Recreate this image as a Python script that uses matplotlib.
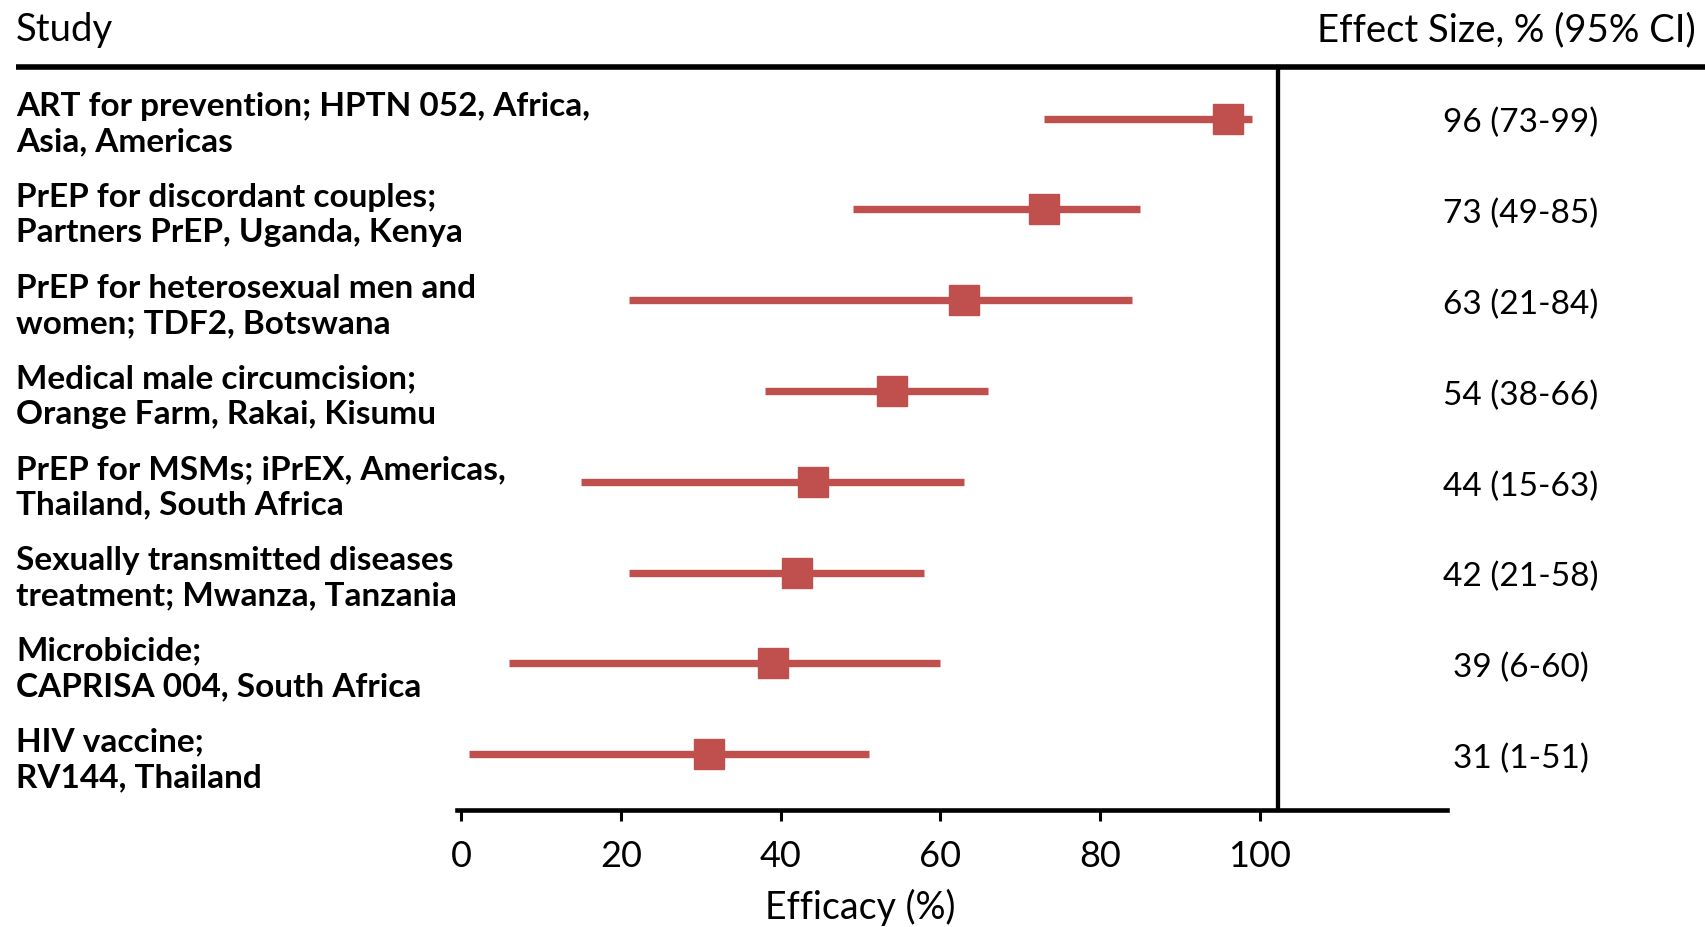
import matplotlib
matplotlib.use("Agg")
import matplotlib.pyplot as plt
import matplotlib.transforms as mtransforms

plt.rcParams['font.family'] = ['Lato', 'DejaVu Sans']

studies = [
    "ART for prevention; HPTN 052, Africa,\nAsia, Americas",
    "PrEP for discordant couples;\nPartners PrEP, Uganda, Kenya",
    "PrEP for heterosexual men and\nwomen; TDF2, Botswana",
    "Medical male circumcision;\nOrange Farm, Rakai, Kisumu",
    "PrEP for MSMs; iPrEX, Americas,\nThailand, South Africa",
    "Sexually transmitted diseases\ntreatment; Mwanza, Tanzania",
    "Microbicide;\nCAPRISA 004, South Africa",
    "HIV vaccine;\nRV144, Thailand",
]
effect = [96, 73, 63, 54, 44, 42, 39, 31]
ci_low = [73, 49, 21, 38, 15, 21, 6, 1]
ci_high = [99, 85, 84, 66, 63, 58, 60, 51]
xticks = [0, 20, 40, 60, 80, 100]

red = "#C0504D"
W, H = 1706, 928

fig = plt.figure(figsize=(W / 100, H / 100), dpi=100)
# axes placed in pixel terms: x 0..100 spans 461..1260 px
x_left, x_right = 457, 1447
y_top, y_bot = 67.5, 810.6
ax = fig.add_axes([x_left / W, 1 - y_bot / H, (x_right - x_left) / W, (y_bot - y_top) / H])
ax.set_xlim(-0.5, 123.4)
ax.set_ylim(7.61, -0.575)

rows = list(range(len(studies)))
for i in rows:
    ax.plot([ci_low[i], ci_high[i]], [i, i], color=red, lw=5.3, solid_capstyle='butt', zorder=2)
ax.plot(effect, rows, linestyle='none', marker='s', markersize=21, color=red, zorder=3)

# reference line at the right edge of the scale
ax.plot([102.3, 102.3], [-0.575, 7.61], color='black', lw=3.1, clip_on=False, zorder=4)

for s in ['top', 'right', 'left']:
    ax.spines[s].set_visible(False)
ax.spines['bottom'].set_linewidth(3.3)
ax.set_yticks([])
ax.set_xticks(xticks)
ax.tick_params(axis='x', direction='out', length=8, width=2.2, labelsize=26, pad=13)
ax.set_xlabel("Efficacy (%)", fontsize=27)
ax.xaxis.set_label_coords((860 - x_left) / (x_right - x_left), -0.105)

blend = mtransforms.blended_transform_factory(fig.transFigure, ax.transData)

# header rule across the whole width
ax.plot([16 / W, 1.0], [-0.575, -0.575], color='black', lw=4, transform=blend,
        clip_on=False, solid_capstyle='butt', zorder=4)

fig.text(16 / W, 1 - 30 / H, "Study", fontsize=27.5, va='center', ha='left')
fig.text(1696 / W, 1 - 30 / H, "Effect Size, % (95% CI)", fontsize=27.5, va='center', ha='right')

for i in rows:
    ax.text(16 / W, i + 0.05, studies[i], transform=blend, fontsize=24, fontweight='bold',
            ha='left', va='center', linespacing=1.27)
    ax.text(1521 / W, i + 0.04, f"{effect[i]} ({ci_low[i]}-{ci_high[i]})", transform=blend,
            fontsize=24, ha='center', va='center')

fig.savefig("out.png", dpi=100)
